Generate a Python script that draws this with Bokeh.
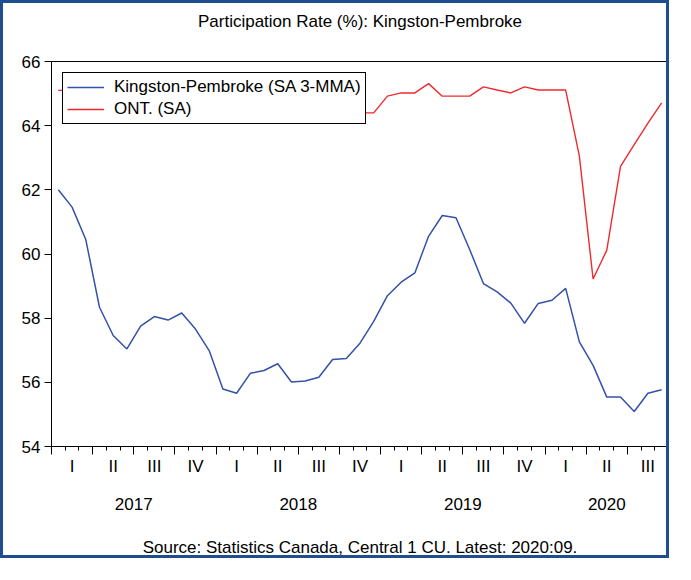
import numpy as np
from bokeh.plotting import figure
from bokeh.models import (Range1d, LinearAxis, FixedTicker, Legend, LegendItem,
                          CustomLabelingPolicy)
from bokeh.embed import file_html
from bokeh.resources import INLINE

years = ["2017", "2018", "2019", "2020"]
quarters = ["I", "II", "III", "IV"]
months_per_year = [12, 12, 12, 9]
y_ticks = [54, 56, 58, 60, 62, 64, 66]

kingston = [62.00, 61.46, 60.45, 58.34, 57.46, 57.04, 57.75, 58.05, 57.94, 58.16, 57.66, 56.99,
            55.79, 55.66, 56.28, 56.37, 56.58, 56.01, 56.04, 56.16, 56.71, 56.74, 57.22, 57.90,
            58.70, 59.12, 59.41, 60.55, 61.20, 61.13, 60.14, 59.08, 58.82, 58.47, 57.84, 58.46,
            58.56, 58.93, 57.26, 56.53, 55.54, 55.54, 55.09, 55.66, 55.77]
ontario = [65.1, 65.1, 64.9, 64.8, 64.8, 64.7, 64.8, 64.7, 64.6, 64.7, 64.7, 64.6,
           64.9, 64.8, 64.8, 64.7, 64.6, 64.5, 64.5, 64.5, 64.6, 64.5, 64.4, 64.4,
           64.92, 65.02, 65.02, 65.31, 64.92, 64.92, 64.92, 65.21, 65.11, 65.02, 65.21, 65.11,
           65.11, 65.11, 63.05, 59.22, 60.12, 62.73, 63.41, 64.08, 64.71]

TITLE = "Participation Rate (%): Kingston-Pembroke"
SOURCE = "Source: Statistics Canada, Central 1 CU. Latest: 2020:09."
FONT = "Liberation Sans"
n = len(kingston)
x = [i + 0.5 for i in range(n)]

p = figure(width=669, height=558, output_backend="svg", toolbar_location=None,
           x_range=Range1d(0, n), y_range=Range1d(54, 66),
           min_border_left=48, min_border_right=4, min_border_top=58, min_border_bottom=115)
p.title = None
p.styles = {"border": "3px solid #1f4e8f"}
p.xgrid.visible = False
p.ygrid.visible = False
p.outline_line_color = "black"
p.outline_line_width = 1
p.outline_line_alpha = 1
p.background_fill_color = "white"
p.border_fill_color = "white"

r_k = p.line(x, kingston, line_color="#3352a8", line_width=1.5)
r_o = p.line(x, ontario, line_color="#ee2a2f", line_width=1.4)

# y axis
ya = p.yaxis[0]
ya.ticker = FixedTicker(ticks=y_ticks, minor_ticks=[])
ya.major_tick_out = 7
ya.major_tick_in = 0
ya.major_label_standoff = 4
ya.major_label_text_font = FONT
ya.major_label_text_font_size = "17px"
ya.major_label_text_color = "black"
ya.axis_line_color = "black"
ya.major_tick_line_color = "black"

# x axis with month / quarter ticks (no labels)
xa = p.xaxis[0]
xa.ticker = FixedTicker(ticks=list(range(0, n + 1, 3)), minor_ticks=list(range(n + 1)))
xa.major_tick_out = 8
xa.major_tick_in = 0
xa.minor_tick_out = 4
xa.minor_tick_in = 0
xa.major_label_text_font_size = "0px"
xa.major_label_standoff = 0
xa.major_label_policy = CustomLabelingPolicy(code="""
    for (const i of indices) {
        indices.unset(i)
    }
    return indices
""")
xa.axis_line_color = "black"
xa.major_tick_line_color = "black"
xa.minor_tick_line_color = "black"

# quarter labels
q_pos = [1.5 + 3 * k for k in range(n // 3)]
q_over = {q: quarters[k % 4] for k, q in enumerate(q_pos)}
qa = LinearAxis(ticker=FixedTicker(ticks=q_pos, minor_ticks=[]), major_label_overrides=q_over,
                axis_line_color=None, major_tick_line_color=None, minor_tick_line_color=None,
                major_tick_out=0, major_tick_in=0, major_label_standoff=2,
                major_label_text_font=FONT, major_label_text_font_size="17px",
                major_label_text_color="black")
p.add_layout(qa, "below")

# year labels + source line
starts = np.cumsum([0] + months_per_year[:-1])
y_pos = [float(s + m / 2) for s, m in zip(starts, months_per_year)]
y_over = {v: yr for v, yr in zip(y_pos, years)}
yra = LinearAxis(ticker=FixedTicker(ticks=y_pos, minor_ticks=[]), major_label_overrides=y_over,
                 axis_line_color=None, major_tick_line_color=None, minor_tick_line_color=None,
                 major_tick_out=0, major_tick_in=0, major_label_standoff=19,
                 major_label_text_font=FONT, major_label_text_font_size="17px",
                 major_label_text_color="black",
                 axis_label=SOURCE,
                 axis_label_standoff=25, axis_label_text_font=FONT,
                 axis_label_text_font_size="17px", axis_label_text_font_style="normal",
                 axis_label_text_color="black")
p.add_layout(yra, "below")

# title, drawn as the label of a tick-less axis above the frame
ta = LinearAxis(ticker=FixedTicker(ticks=[], minor_ticks=[]),
                axis_line_color=None, major_tick_line_color=None, minor_tick_line_color=None,
                major_tick_out=0, major_tick_in=0, major_label_standoff=0,
                axis_label=TITLE, axis_label_standoff=31, axis_label_text_font=FONT,
                axis_label_text_font_size="17px", axis_label_text_font_style="normal",
                axis_label_text_color="black")
p.add_layout(ta, "above")

legend = Legend(items=[LegendItem(label="Kingston-Pembroke (SA 3-MMA)", renderers=[r_k]),
                       LegendItem(label="ONT. (SA)", renderers=[r_o])],
                location="top_left", margin=11, padding=4, spacing=2,
                glyph_width=37, glyph_height=20, label_height=20, label_standoff=10,
                label_text_font=FONT, label_text_font_size="17px", label_text_color="black",
                border_line_color="black", border_line_width=1, border_line_alpha=1,
                background_fill_color="white", background_fill_alpha=1)
p.add_layout(legend)

open("out.html", "w").write(file_html(p, INLINE))
